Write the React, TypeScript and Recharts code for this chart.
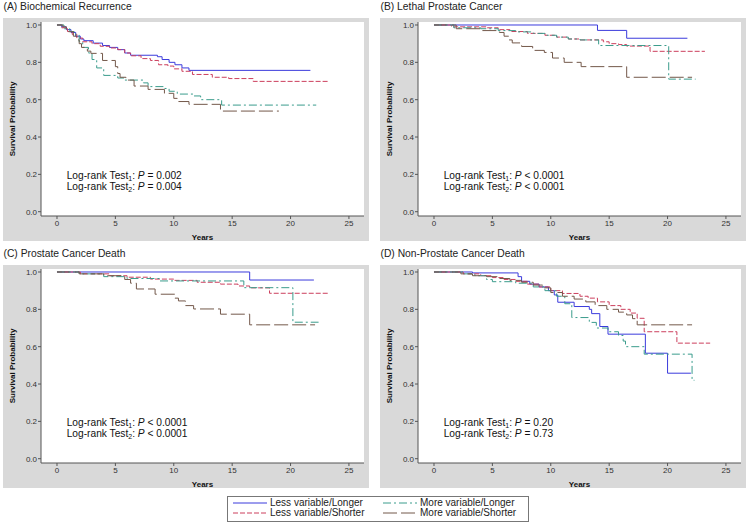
import React from 'react';
import { LineChart, Line, XAxis, YAxis, CartesianGrid } from 'recharts';

type Pt = [number, number];

const FONT = 'Arial, "Liberation Sans", Helvetica, sans-serif';

const xTicks = [0, 5, 10, 15, 20, 25];
const yTicks = [0, 0.2, 0.4, 0.6, 0.8, 1.0];
const X_DOMAIN: [number, number] = [-1.37, 26.29];
const Y_DOMAIN: [number, number] = [-0.023, 1.016];

const groupNames = [
  'Less variable/Longer',
  'Less variable/Shorter',
  'More variable/Longer',
  'More variable/Shorter',
];

// (A) Biochemical Recurrence - [years, survival]
const bcrLessLonger: Pt[] = [[0, 1], [0.4, 0.99], [0.8, 0.975], [1.2, 0.96], [1.6, 0.94], [2.0, 0.925], [2.3, 0.916], [3.1, 0.903], [3.9, 0.89], [4.5, 0.88], [5.2, 0.868], [5.8, 0.85], [6.3, 0.838], [8.6, 0.83], [9.0, 0.815], [9.6, 0.8], [10.1, 0.787], [10.7, 0.77], [11.3, 0.757], [21.7, 0.757]];
const bcrLessShorter: Pt[] = [[0, 1], [0.4, 0.985], [0.9, 0.965], [1.3, 0.95], [1.7, 0.93], [2.2, 0.91], [3.0, 0.9], [3.7, 0.886], [4.5, 0.877], [5.2, 0.868], [5.8, 0.85], [6.3, 0.835], [7.2, 0.82], [8.0, 0.81], [8.7, 0.787], [9.5, 0.78], [10.0, 0.765], [10.7, 0.752], [11.6, 0.735], [13.3, 0.72], [14.7, 0.713], [16.8, 0.698], [23.2, 0.698]];
const bcrMoreLonger: Pt[] = [[0, 1], [0.6, 0.98], [1.1, 0.965], [1.6, 0.946], [1.9, 0.91], [2.2, 0.88], [2.7, 0.85], [3.0, 0.815], [3.4, 0.77], [4.0, 0.73], [5.2, 0.716], [5.8, 0.705], [7.4, 0.69], [7.8, 0.67], [9.2, 0.66], [9.6, 0.645], [10.3, 0.63], [11.7, 0.62], [12.3, 0.6], [14.1, 0.571], [22.2, 0.571]];
const bcrMoreShorter: Pt[] = [[0, 1], [0.5, 0.99], [0.8, 0.98], [1.0, 0.964], [1.4, 0.94], [1.7, 0.92], [1.9, 0.9], [2.1, 0.88], [2.6, 0.86], [2.9, 0.848], [3.9, 0.81], [5.0, 0.777], [5.2, 0.74], [5.4, 0.72], [5.9, 0.705], [6.6, 0.673], [7.8, 0.655], [9.2, 0.634], [10.0, 0.607], [10.3, 0.59], [11.3, 0.575], [14.0, 0.539], [19.0, 0.539]];

// (B) Lethal Prostate Cancer
const lpcLessLonger: Pt[] = [[0, 1], [14.0, 0.971], [16.5, 0.929], [21.7, 0.929]];
const lpcLessShorter: Pt[] = [[0, 1], [1.5, 0.99], [4.5, 0.985], [5.5, 0.975], [6.5, 0.965], [8.0, 0.955], [9.5, 0.945], [10.5, 0.935], [11.5, 0.925], [12.5, 0.92], [14.5, 0.91], [15.0, 0.9], [15.8, 0.895], [16.5, 0.887], [18.5, 0.859], [23.2, 0.859]];
const lpcMoreLonger: Pt[] = [[0, 1], [1.7, 0.985], [4.0, 0.98], [5.5, 0.97], [7.0, 0.963], [8.5, 0.955], [9.5, 0.945], [10.5, 0.935], [11.5, 0.925], [12.5, 0.92], [14.1, 0.89], [20.1, 0.71], [22.4, 0.71]];
const lpcMoreShorter: Pt[] = [[0, 1], [1.9, 0.98], [4.0, 0.97], [5.6, 0.96], [6.0, 0.94], [6.4, 0.92], [6.7, 0.904], [7.5, 0.885], [8.45, 0.864], [9.45, 0.853], [10.15, 0.823], [11.15, 0.8], [12.6, 0.777], [16.5, 0.72], [22.1, 0.72]];

// (C) Prostate Cancer Death
const pcdLessLonger: Pt[] = [[0, 1], [16.5, 0.957], [22.0, 0.957]];
const pcdLessShorter: Pt[] = [[0, 1], [2.0, 0.99], [4.5, 0.98], [6.0, 0.972], [8.0, 0.962], [10.0, 0.955], [12.0, 0.945], [14.0, 0.935], [15.5, 0.925], [16.5, 0.915], [18.2, 0.886], [23.2, 0.886]];
const pcdMoreLonger: Pt[] = [[0, 1], [1.9, 0.99], [4.0, 0.975], [6.0, 0.965], [8.8, 0.952], [16.0, 0.916], [20.2, 0.731], [22.4, 0.731]];
const pcdMoreShorter: Pt[] = [[0, 1], [1.9, 0.99], [4.0, 0.98], [5.8, 0.96], [6.3, 0.94], [6.8, 0.909], [8.4, 0.881], [10.1, 0.86], [10.4, 0.845], [11.0, 0.82], [11.7, 0.802], [14.0, 0.774], [16.5, 0.717], [22.1, 0.717]];

// (D) Non-Prostate Cancer Death
const npcLessLonger: Pt[] = [[0, 1], [3.3, 0.995], [7.2, 0.975], [7.5, 0.95], [8.2, 0.935], [9.0, 0.92], [9.8, 0.9], [10.3, 0.877], [10.6, 0.838], [12.0, 0.815], [13.3, 0.8], [13.5, 0.777], [14.2, 0.708], [14.9, 0.667], [18.1, 0.565], [20.0, 0.458], [22.0, 0.458]];
const npcLessShorter: Pt[] = [[0, 1], [2.5, 0.99], [4.0, 0.98], [5.0, 0.97], [6.0, 0.96], [7.0, 0.95], [8.0, 0.935], [9.0, 0.92], [10.0, 0.9], [11.0, 0.885], [12.5, 0.87], [13.2, 0.86], [14.0, 0.84], [15.0, 0.82], [16.0, 0.8], [16.8, 0.78], [17.4, 0.752], [18.0, 0.68], [20.8, 0.619], [23.65, 0.619]];
const npcMoreLonger: Pt[] = [[0, 1], [2.5, 0.99], [3.5, 0.98], [4.5, 0.96], [5.0, 0.948], [7.0, 0.94], [8.5, 0.92], [9.5, 0.9], [10.5, 0.87], [11.2, 0.83], [11.8, 0.756], [13.3, 0.73], [13.9, 0.7], [14.9, 0.68], [15.8, 0.66], [16.2, 0.63], [16.4, 0.6], [18.0, 0.56], [22.1, 0.42], [22.3, 0.42]];
const npcMoreShorter: Pt[] = [[0, 1], [2.3, 0.99], [3.3, 0.98], [4.5, 0.975], [5.5, 0.965], [6.5, 0.955], [7.5, 0.945], [8.5, 0.93], [9.3, 0.915], [10.0, 0.89], [11.0, 0.87], [12.0, 0.855], [13.0, 0.84], [13.8, 0.82], [14.8, 0.8], [15.8, 0.785], [16.5, 0.77], [17.0, 0.75], [17.4, 0.717], [22.1, 0.717]];

const lineStyles = [
  { stroke: '#3b3bdc', dash: undefined as string | undefined },
  { stroke: '#cc3f5d', dash: '5 2' },
  { stroke: '#3a9c8c', dash: '8 3 2 3' },
  { stroke: '#73584a', dash: '14 4' },
];

const toRows = (pts: Pt[]) => pts.map(([t, s]) => ({ t, s }));

const tickStyle = { fontSize: 8, fill: '#333', fontFamily: FONT };

const Sub = ({ n }: { n: string }) => (
  <span style={{ fontSize: 7, position: 'relative', top: 2 }}>{n}</span>
);

interface PanelProps {
  left: number;
  top: number;
  title: string;
  curves: Pt[][];
  p1: string;
  p2: string;
}

const Panel = ({ left, top, title, curves, p1, p2 }: PanelProps) => (
  <>
    <div style={{ position: 'absolute', left: left + 0.5, top: top - 18, fontSize: 10.3, lineHeight: '14px', color: '#222', fontFamily: FONT, whiteSpace: 'nowrap' }}>
      {title}
    </div>
    <div style={{ position: 'absolute', left, top, width: 366, height: 223, background: '#d9d9d9' }}>
      <LineChart width={366} height={223} margin={{ top: 4, right: 5, bottom: 0, left: 0 }}>
        <CartesianGrid fill="#fff" horizontal={false} vertical={false} />
        <XAxis
          type="number"
          dataKey="t"
          domain={X_DOMAIN}
          ticks={xTicks}
          allowDataOverflow
          height={25}
          tickSize={3}
          tickMargin={1}
          stroke="#555"
          tick={tickStyle}
          label={{ value: 'Years', position: 'insideBottom', offset: 1, fontSize: 8, fontWeight: 'bold', fill: '#111', fontFamily: FONT }}
        />
        <XAxis xAxisId="top" orientation="top" type="number" domain={X_DOMAIN} allowDataOverflow height={0} tick={false} tickLine={false} stroke="#555" />
        <YAxis
          type="number"
          domain={Y_DOMAIN}
          ticks={yTicks}
          allowDataOverflow
          width={38}
          tickSize={3}
          tickMargin={1}
          stroke="#555"
          tick={tickStyle}
          tickFormatter={(v: number) => v.toFixed(1)}
          label={{ value: 'Survival Probability', angle: -90, position: 'insideLeft', offset: 9, style: { textAnchor: 'middle' }, fontSize: 8, fontWeight: 'bold', fill: '#111', fontFamily: FONT }}
        />
        <YAxis yAxisId="right" orientation="right" type="number" domain={Y_DOMAIN} allowDataOverflow width={0} tick={false} tickLine={false} stroke="#555" />
        {curves.map((c, i) => (
          <Line
            key={groupNames[i]}
            data={toRows(c)}
            dataKey="s"
            name={groupNames[i]}
            type="stepAfter"
            stroke={lineStyles[i].stroke}
            strokeDasharray={lineStyles[i].dash}
            strokeWidth={1}
            dot={false}
            activeDot={false}
            isAnimationActive={false}
          />
        ))}
      </LineChart>
    </div>
    <div style={{ position: 'absolute', left: left + 63.7, top: top + 151.5, fontSize: 10.2, lineHeight: '11px', color: '#111', fontFamily: FONT, whiteSpace: 'nowrap' }}>
      <div style={{ height: 11 }}>Log-rank Test<Sub n="1" />: <i>P</i> {p1}</div>
      <div style={{ height: 11 }}>Log-rank Test<Sub n="2" />: <i>P</i> {p2}</div>
    </div>
  </>
);

const LegendSample = ({ i }: { i: number }) => (
  <svg width={34} height={6} style={{ display: 'block' }}>
    <line x1={0} y1={3} x2={34} y2={3} stroke={lineStyles[i].stroke} strokeDasharray={lineStyles[i].dash} strokeWidth={1} />
  </svg>
);

const App = () => {
  const legendPos = [
    { x: 233, y: 498 },
    { x: 233, y: 508 },
    { x: 383, y: 498 },
    { x: 383, y: 508 },
  ];
  return (
    <div style={{ position: 'absolute', left: 0, top: 0, width: 750, height: 524, background: '#fff', fontFamily: FONT }}>
      <Panel left={3} top={18} title="(A) Biochemical Recurrence" curves={[bcrLessLonger, bcrLessShorter, bcrMoreLonger, bcrMoreShorter]} p1="= 0.002" p2="= 0.004" />
      <Panel left={380} top={18} title="(B) Lethal Prostate Cancer" curves={[lpcLessLonger, lpcLessShorter, lpcMoreLonger, lpcMoreShorter]} p1="< 0.0001" p2="< 0.0001" />
      <Panel left={3} top={265} title="(C) Prostate Cancer Death" curves={[pcdLessLonger, pcdLessShorter, pcdMoreLonger, pcdMoreShorter]} p1="< 0.0001" p2="< 0.0001" />
      <Panel left={380} top={265} title="(D) Non-Prostate Cancer Death" curves={[npcLessLonger, npcLessShorter, npcMoreLonger, npcMoreShorter]} p1="= 0.20" p2="= 0.73" />
      <div style={{ position: 'absolute', left: 227, top: 496, width: 300, height: 24, border: '1px solid #777', background: '#fff' }} />
      {groupNames.map((g, i) => (
        <div key={g} style={{ position: 'absolute', left: legendPos[i].x, top: legendPos[i].y, display: 'flex', alignItems: 'center', gap: 3, fontSize: 10, lineHeight: '10px', color: '#222', whiteSpace: 'nowrap' }}>
          <LegendSample i={i} />
          <span>{g}</span>
        </div>
      ))}
    </div>
  );
};

export default App;
